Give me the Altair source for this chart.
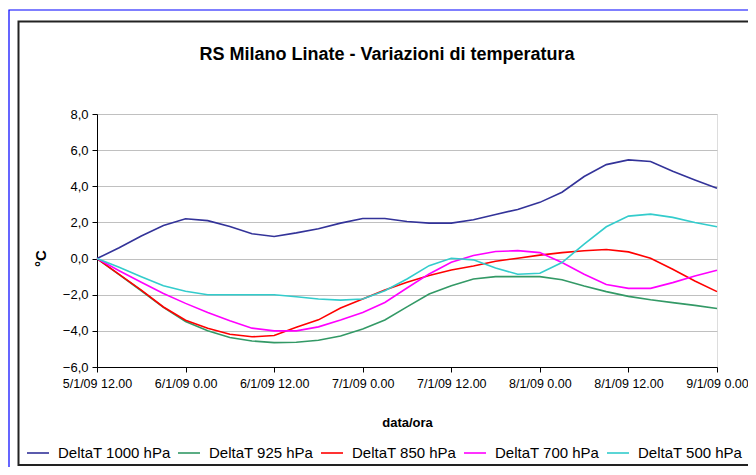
import altair as alt
import pandas as pd

# hours since 5/1/09 12.00, one reading every 3 hours
hours = list(range(0, 85, 3))

dt_1000 = [0, 0.6, 1.25, 1.83, 2.2, 2.1, 1.78, 1.37, 1.22, 1.42,
           1.65, 1.96, 2.22, 2.22, 2.05, 1.96, 1.96, 2.15, 2.44,
           2.72, 3.11, 3.67, 4.54, 5.2, 5.46, 5.37, 4.83, 4.35, 3.89]
dt_925 = [0, -0.89, -1.78, -2.7, -3.48, -4.0, -4.37, -4.56, -4.65, -4.63,
          -4.52, -4.28, -3.9, -3.4, -2.67, -1.96, -1.5, -1.13, -1.0,
          -1.0, -1.0, -1.17, -1.52, -1.83, -2.09, -2.28, -2.44, -2.59, -2.76]
dt_850 = [0, -0.87, -1.75, -2.68, -3.41, -3.85, -4.19, -4.33, -4.26, -3.8,
          -3.39, -2.74, -2.24, -1.74, -1.31, -0.94, -0.63, -0.41, -0.15,
          0.02, 0.19, 0.33, 0.43, 0.5, 0.37, 0.02, -0.59, -1.24, -1.83]
dt_700 = [0, -0.67, -1.31, -1.93, -2.48, -2.98, -3.44, -3.85, -4.0, -4.0,
          -3.78, -3.4, -2.98, -2.43, -1.63, -0.85, -0.2, 0.17, 0.39,
          0.44, 0.33, -0.22, -0.87, -1.43, -1.65, -1.65, -1.33, -0.96, -0.65]
dt_500 = [0, -0.48, -1.0, -1.5, -1.81, -2.0, -2.0, -2.0, -2.0, -2.11,
          -2.24, -2.3, -2.24, -1.78, -1.13, -0.39, 0.02, -0.07, -0.52,
          -0.87, -0.81, -0.22, 0.8, 1.76, 2.35, 2.46, 2.28, 2.0, 1.76]

series_names = ["DeltaT 1000 hPa", "DeltaT 925 hPa", "DeltaT 850 hPa",
                "DeltaT 700 hPa", "DeltaT 500 hPa"]
series_colors = ["#333399", "#339966", "#ff0000", "#ff00ff", "#33cccc"]

x_tick_values = [0, 12, 24, 36, 48, 60, 72, 84]
x_tick_labels = ["5/1/09 12.00", "6/1/09 0.00", "6/1/09 12.00", "7/1/09 0.00",
                 "7/1/09 12.00", "8/1/09 0.00", "8/1/09 12.00", "9/1/09 0.00"]
y_tick_values = [-6, -4, -2, 0, 2, 4, 6, 8]

chart_title = "RS Milano Linate - Variazioni di temperatura"

rows = []
for name, vals in zip(series_names, [dt_1000, dt_925, dt_850, dt_700, dt_500]):
    for h, v in zip(hours, vals):
        rows.append({"ora": h, "dT": v, "serie": name})
df = pd.DataFrame(rows)

label_expr = "[" + ",".join("'" + t + "'" for t in x_tick_labels) + "][round(datum.value/12)]"

FONT = "Liberation Sans"

frame_df = pd.DataFrame({"k": [0]})
blue_frame = alt.Chart(frame_df).mark_rect(
    fillOpacity=0, stroke="#0000ff", strokeWidth=1.2
).encode(x=alt.value(-88), x2=alt.value(680), y=alt.value(-104), y2=alt.value(400))
black_frame = alt.Chart(frame_df).mark_rect(
    fillOpacity=0, stroke="#222222", strokeWidth=2
).encode(x=alt.value(-78.5), x2=alt.value(657), y=alt.value(-92.5), y2=alt.value(351))
title_text = alt.Chart(frame_df).mark_text(
    text=chart_title, font=FONT, fontSize=18, fontWeight="bold", color="#000000",
    align="center", baseline="alphabetic"
).encode(x=alt.value(290), y=alt.value(-54))

lines = alt.Chart(df).mark_line(strokeWidth=1.6).encode(
    x=alt.X("ora:Q",
            scale=alt.Scale(domain=[0, 84], nice=False, zero=False),
            axis=alt.Axis(values=x_tick_values, labelExpr=label_expr, title="data/ora",
                          grid=False, domainColor="#000000", tickColor="#000000",
                          tickSize=5, labelFont=FONT, labelFontSize=12.5, labelColor="#000000",
                          labelPadding=5, labelFlush=False, labelOverlap=False,
                          titleFont=FONT, titleFontSize=13, titleFontWeight="bold",
                          titleColor="#000000", titleY=55, titleBaseline="middle")),
    y=alt.Y("dT:Q",
            scale=alt.Scale(domain=[-6, 8], nice=False, zero=False),
            axis=alt.Axis(values=y_tick_values,
                          labelExpr="replace(format(datum.value, '.1f'), '.', ',')",
                          title="°C", grid=True, gridColor="#c0c0c0", gridWidth=1,
                          domainColor="#000000", tickColor="#000000", tickSize=5,
                          labelFont=FONT, labelFontSize=13, labelColor="#000000",
                          labelPadding=4, labelOverlap=False,
                          titleFont=FONT, titleFontSize=15, titleFontWeight="bold",
                          titleColor="#000000", titleX=-57, titleY=144,
                          titleAngle=270, titleAlign="center", titleBaseline="middle")),
    color=alt.Color("serie:N",
                    scale=alt.Scale(domain=series_names, range=series_colors),
                    sort=series_names,
                    legend=alt.Legend(title=None, orient="none", legendX=-71, legendY=327,
                                      direction="horizontal", symbolType="stroke",
                                      symbolSize=484, symbolStrokeWidth=1.6,
                                      labelFont=FONT, labelFontSize=15, labelColor="#000000",
                                      labelOffset=8, columnPadding=3, labelLimit=300)),
)

chart = alt.layer(blue_frame, black_frame, title_text, lines).properties(
    width=620, height=253,
    padding={"left": 89, "top": 106, "right": 31, "bottom": 100},
    autosize=alt.AutoSizeParams(type="none"),
).configure_view(stroke="#a0a0a0", strokeWidth=1).configure(background="white")

chart.save("out.html", embed_options={"renderer": "svg", "actions": False})
